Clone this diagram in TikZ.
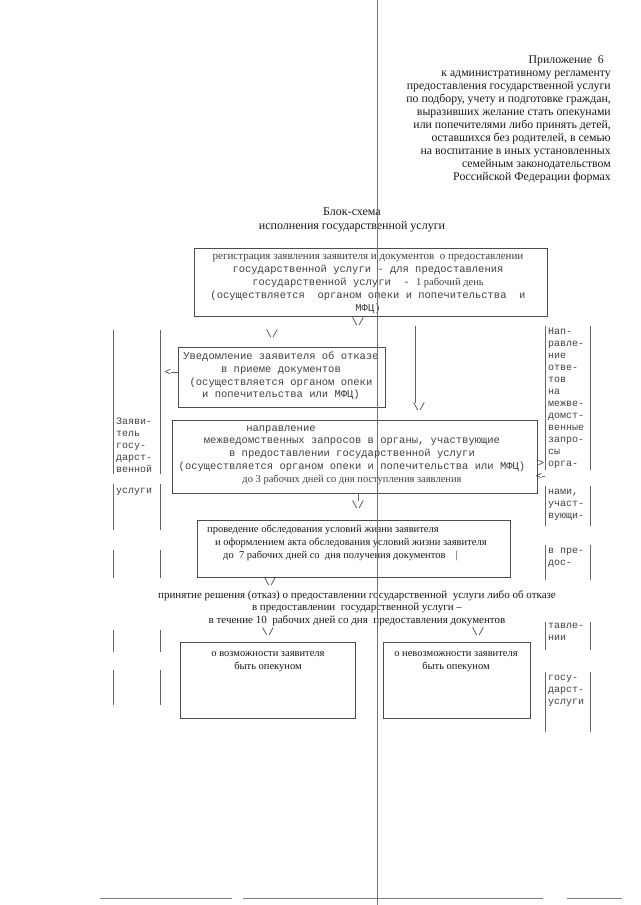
\documentclass[tikz,border=0pt]{standalone}
\usepackage{fontspec}
\setmainfont{Liberation Serif}
\setmonofont{Liberation Mono}
\usetikzlibrary{positioning}

\begin{document}
\begin{tikzpicture}[x=1pt,y=-1pt,
  blok/.style={draw=black!70, line width=0.6pt, inner sep=0pt},
  tt/.style={font=\ttfamily\fontsize{10.5}{12.8}\selectfont, text=black!75, inner sep=0pt, align=center},
  rm/.style={font=\rmfamily\fontsize{10.5}{12.8}\selectfont, text=black!90, inner sep=0pt, align=center},
  downmark/.style={font=\ttfamily\fontsize{10.5}{12}\selectfont, text=black!75, inner sep=0pt},
  coltext/.style={font=\ttfamily\fontsize{10}{12}\selectfont, text=black!75, inner sep=0pt, align=left, anchor=north west},
  bar/.style={black!60, line width=0.6pt},
]
\useasboundingbox (0,0) rectangle (640,905);

% header
\node[rm, align=right, anchor=north east, font=\rmfamily\fontsize{11.8}{13.1}\selectfont] (head) at (611,55)
  {Приложение~~6\hspace*{7pt}\\
   к административному регламенту\\
   предоставления государственной услуги\\
   по подбору, учету и подготовке граждан,\\
   выразивших желание стать опекунами\\
   или попечителями либо принять детей,\\
   оставшихся без родителей, в семью\\
   на воспитание в иных установленных\\
   семейным законодательством\\
   Российской Федерации формах};

\node[rm, font=\rmfamily\fontsize{12}{14}\selectfont] (title) at (352,220)
  {Блок-схема\\ исполнения государственной услуги};

% boxes
\node[blok, minimum width=353, minimum height=68] (reg) at (370.5,282) {};
\node[blok, minimum width=207, minimum height=60] (otkaz) at (281.5,377) {};
\node[blok, minimum width=365, minimum height=73] (zapros) at (354.5,456.5) {};
\node[blok, minimum width=313, minimum height=57] (obsl) at (353.5,548.5) {};
\node[blok, minimum width=175, minimum height=76] (mozh) at (267.5,680) {};
\node[blok, minimum width=147, minimum height=76] (nemozh) at (456.5,680) {};

% texts in boxes
\node[tt] (regtxt) at (368,284)
  {\rmfamily\fontsize{11}{12.8}\selectfont регистрация заявления заявителя и документов~~о предоставлении\\
   \ttfamily государственной услуги - для предоставления\\
   \ttfamily государственной услуги~ - \rmfamily 1 рабочий день\\
   \ttfamily (осуществляется~~органом опеки и попечительства~~и\\
   \ttfamily МФЦ)};
\node[tt] (otkaztxt) at (281,376)
  {Уведомление заявителя об отказе\\
   в приеме документов\\
   (осуществляется органом опеки\\
   и попечительства или МФЦ)};
\node[tt] (zaprostxt) at (352,455)
  {направление\hspace*{142pt}\\
   межведомственных запросов в органы, участвующие\\
   в предоставлении государственной услуги\\
   (осуществляется органом опеки и попечительства или МФЦ)\\
   \rmfamily до 3 рабочих дней со дня поступления заявления};
\node[rm, align=left, anchor=west] (obsltxt) at (207,543)
  {проведение обследования условий жизни заявителя\\
   \hspace*{8pt}и оформлением акта обследования условий жизни заявителя\\
   \hspace*{16pt}до~~7 рабочих дней со~~дня получения документов~~~~|};
\node[rm, font=\rmfamily\fontsize{11}{12.6}\selectfont] (reshenie) at (357,608)
  {принятие решения (отказ) о предоставлении государственной~~услуги либо об отказе\\
   в предоставлении~~государственной услуги --\\
   в течение 10~~рабочих дней со дня~~предоставления документов};
\node[rm] (mozhtxt) at (268,662) {о возможности заявителя\\ быть опекуном};
\node[rm] (nemozhtxt) at (456,662) {о невозможности заявителя\\ быть опекуном};

% down marks
\node[downmark] (d1) at (358,322) {\textbackslash/};
\node[downmark] (d2) at (272,334) {\textbackslash/};
\node[downmark] (d3) at (419,407) {\textbackslash/};
\node[downmark] (d4) at (358,505) {\textbackslash/};
\node[downmark] (d5) at (270,582) {\textbackslash/};
\node[downmark] (d6) at (268,632) {\textbackslash/};
\node[downmark] (d7) at (478,632) {\textbackslash/};
\coordinate (v1) at (415,326);
\draw[bar] (v1) -- (v1 |- d3.north);
\draw[bar] (zapros.south -| d4) -- (d4.north);
\draw[bar] (obsl.south -| d5) -- (d5.north);

% side arrows
\node[downmark] (lt1) at (168,372) {<};
\draw[bar] (lt1.east) -- (lt1.east -| otkaz.west);
\node[downmark] (gt1) at (541,463) {>};
\draw[bar] (zapros.east |- gt1) -- (gt1.west);
\node[downmark] (lt2) at (539,476) {<};
\coordinate (rc) at (545,476);
\draw[bar] (lt2.east) -- (rc);

% left column
\foreach \a/\b in {330/474, 484/530, 550/578, 630/652, 670/705} {
  \draw[bar] (113,\a) -- (113,\b);
  \draw[bar] (160,\a) -- (160,\b);
}
\node[coltext] (lc1) at (116,418) {Заяви-\\тель\\госу-\\дарст-\\венной};
\node[coltext] (lc2) at (116,488) {услуги};

% right column
\foreach \a/\b in {326/470, 486/526, 545/580, 622/650, 672/732} {
  \draw[bar] (545,\a) -- (545,\b);
  \draw[bar] (590,\a) -- (590,\b);
}
\node[coltext] (rc1) at (548,328) {Нап-\\равле-\\ние\\отве-\\тов\\на\\межве-\\домст-\\венные\\запро-\\сы\\орга-};
\node[coltext] (rc2) at (548,489) {нами,\\участ-\\вующи-};
\node[coltext] (rc3) at (548,548) {в пре-\\дос-};
\node[coltext] (rc4) at (548,623) {тавле-\\нии};
\node[coltext] (rc5) at (548,675) {госу-\\дарст-\\услуги};

% fold and bottom edge
\draw[black!55, line width=0.9pt] (377,0) -- (377,905);
\draw[black!50, line width=0.7pt] (100,898) -- (232,898) (243,898) -- (543,898) (567,898) -- (622,898);
\end{tikzpicture}
\end{document}
